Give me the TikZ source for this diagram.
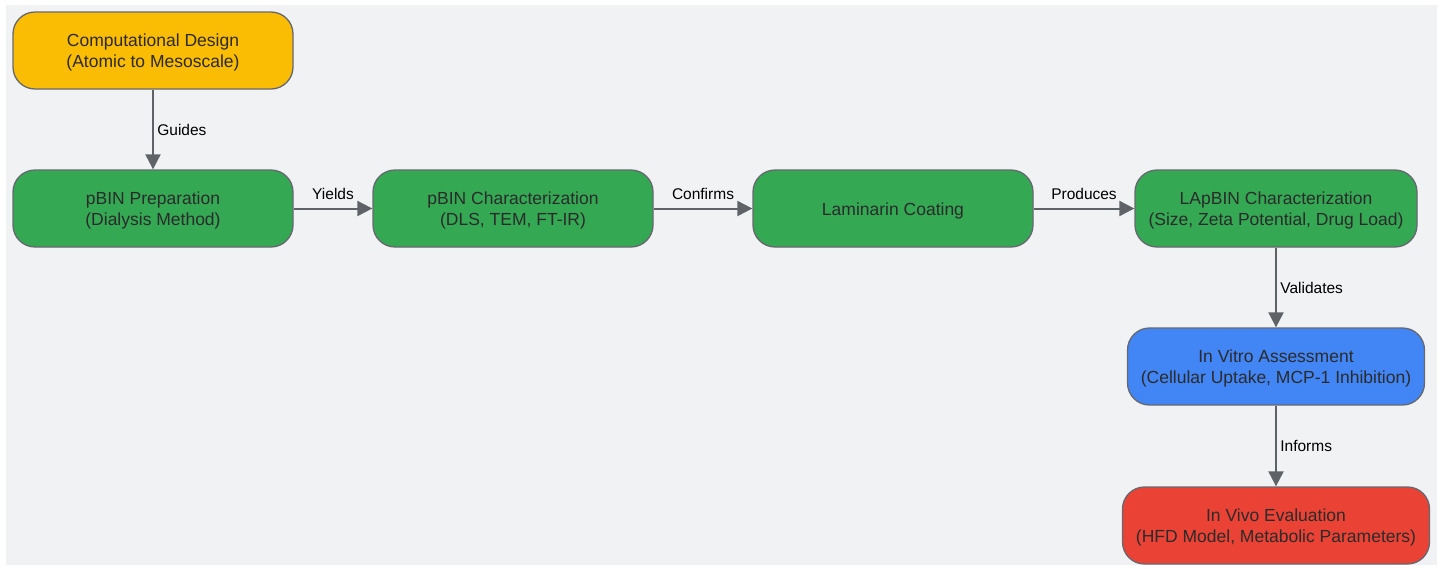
\documentclass[tikz,border=0pt]{standalone}
\usepackage{fontspec}
\setmainfont{Liberation Sans}
\usetikzlibrary{arrows,arrows.meta}
\definecolor{bggray}{HTML}{F1F2F4}
\definecolor{boxline}{HTML}{666870}
\definecolor{linkgray}{HTML}{5F6368}
\definecolor{textdark}{HTML}{2B2B2B}
\definecolor{designyellow}{HTML}{FBBC04}
\definecolor{stepgreen}{HTML}{34A853}
\definecolor{vitroblue}{HTML}{4285F4}
\definecolor{vivored}{HTML}{EA4335}
\tikzset{
  box/.style={draw=boxline, line width=1.3pt, rounded corners=22pt,
    minimum width=280pt, minimum height=77pt, align=center,
    text height=37pt,
    text=textdark, font=\fontsize{17.5}{21}\selectfont},
  link/.style={draw=linkgray, line width=2pt,
    -{Triangle[length=15pt,width=15pt]}},
  lab/.style={font=\fontsize{15.5}{18}\selectfont, text=black}
}

\begin{document}
\begin{tikzpicture}[x=1pt,y=-1pt]
       \useasboundingbox (0,0) rectangle (1443,568);
       \fill[bggray] (6,5) rectangle (1437,565);
       \node[box,fill=designyellow] (design) at (153,50.5)
         {Computational Design\\(Atomic to Mesoscale)};
       \node[box,fill=stepgreen] (prep) at (153,208.5)
         {pBIN Preparation\\(Dialysis Method)};
       \node[box,fill=stepgreen] (pchar) at (513,208.5)
         {pBIN Characterization\\(DLS, TEM, FT-IR)};
       \node[box,fill=stepgreen,text height=17pt] (coat) at (893,208.5)
         {Laminarin Coating};
       \node[box,fill=stepgreen,minimum width=282pt] (lchar) at (1276,208.5)
         {LApBIN Characterization\\(Size, Zeta Potential, Drug Load)};
       \node[box,fill=vitroblue,minimum width=297pt] (vitro) at (1276,366.5)
         {In Vitro Assessment\\(Cellular Uptake, MCP-1 Inhibition)};
       \node[box,fill=vivored,minimum width=307pt] (vivo) at (1276,525.5)
         {In Vivo Evaluation\\(HFD Model, Metabolic Parameters)};
       \draw[link] (design) -- node[lab,anchor=west]{Guides} (prep);
       \draw[link] (prep) -- node[lab,anchor=south,yshift=5pt]{Yields} (pchar);
       \draw[link] (pchar) -- node[lab,anchor=south,yshift=5pt]{Confirms} (coat);
       \draw[link] (coat) -- node[lab,anchor=south,yshift=5pt]{Produces} (lchar);
       \draw[link] (lchar) -- node[lab,anchor=west]{Validates} (vitro);
       \draw[link] (vitro) -- node[lab,anchor=west]{Informs} (vivo);
\end{tikzpicture}
\end{document}
